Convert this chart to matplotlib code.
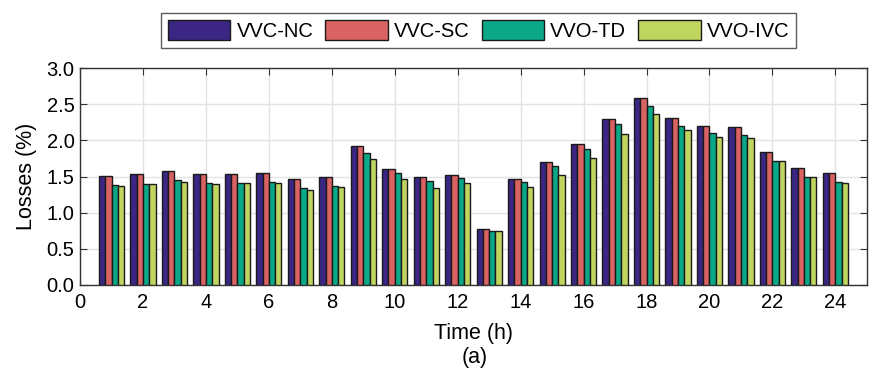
import numpy as np
import matplotlib.pyplot as plt

plt.rcParams['font.family'] = ['Liberation Sans', 'DejaVu Sans']

hours = list(range(1, 25))
vvc_nc = [1.51, 1.53, 1.57, 1.54, 1.54, 1.55, 1.47, 1.49, 1.92, 1.61, 1.49, 1.52,
          0.77, 1.47, 1.70, 1.95, 2.30, 2.59, 2.31, 2.20, 2.18, 1.84, 1.62, 1.55]
vvc_sc = [1.51, 1.53, 1.57, 1.54, 1.54, 1.55, 1.47, 1.49, 1.92, 1.61, 1.49, 1.52,
          0.77, 1.47, 1.70, 1.95, 2.30, 2.59, 2.31, 2.20, 2.18, 1.84, 1.62, 1.55]
vvo_td = [1.38, 1.40, 1.45, 1.41, 1.41, 1.43, 1.34, 1.37, 1.83, 1.55, 1.44, 1.48,
          0.75, 1.43, 1.65, 1.88, 2.23, 2.48, 2.20, 2.10, 2.08, 1.72, 1.50, 1.43]
vvo_ivc = [1.37, 1.40, 1.43, 1.40, 1.41, 1.41, 1.32, 1.36, 1.74, 1.46, 1.34, 1.41,
           0.75, 1.35, 1.52, 1.75, 2.09, 2.37, 2.14, 2.04, 2.03, 1.71, 1.49, 1.41]

series = [vvc_nc, vvc_sc, vvo_td, vvo_ivc]
labels = ['VVC-NC', 'VVC-SC', 'VVO-TD', 'VVO-IVC']
colors = ['#3B2684', '#D96262', '#0BA887', '#BFD55F']

fig = plt.figure(figsize=(8.8, 3.8), dpi=100)
ax = fig.add_axes([0.091, 0.25, 0.894, 0.571])

x = np.array(hours)
w = 0.2
for i, (vals, lab, c) in enumerate(zip(series, labels, colors)):
    ax.bar(x + (i - 1.5) * w, vals, width=w, color=c, edgecolor='#1a1a1a',
           linewidth=1.0, label=lab, zorder=3)

ax.set_xlim(0, 25)
ax.set_ylim(0, 3.0)
ax.set_xticks(range(0, 25, 2))
ax.set_yticks(np.arange(0, 3.01, 0.5))
ax.set_yticklabels([f'{v:.1f}' for v in np.arange(0, 3.01, 0.5)])
ax.grid(True, color='#e3e3e3', linewidth=1.0, zorder=0)
ax.tick_params(direction='in', top=True, right=True, labelsize=14.5,
               length=5, color='#333333')
ax.tick_params(axis='x', pad=6)
ax.tick_params(axis='y', pad=4)
for s in ax.spines.values():
    s.set_color('#333333')
    s.set_linewidth(1.0)

ax.set_ylabel('Losses (%)', fontsize=15.5, labelpad=7)
ax.set_xlabel('Time (h)', fontsize=15.5, labelpad=8)
fig.text(0.539, 0.058, '(a)', fontsize=15.5, ha='center', va='center')

leg = fig.legend(loc='upper center', bbox_to_anchor=(0.544, 0.993), ncol=4,
                 fontsize=14.5, frameon=True, fancybox=False, edgecolor='#333333',
                 handlelength=3.1, handleheight=1.15, columnspacing=0.6,
                 handletextpad=0.3, borderpad=0.35)
leg.get_frame().set_linewidth(1.0)

fig.savefig('out.png', dpi=100)
